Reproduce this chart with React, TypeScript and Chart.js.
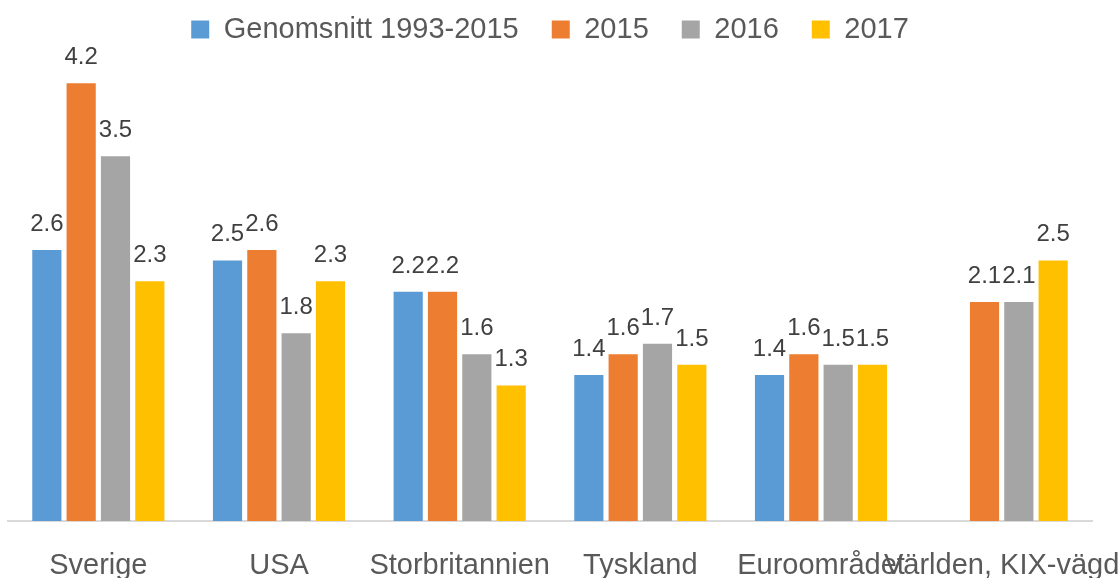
import React, { useEffect, useRef } from "react";
import { Chart, registerables } from "chart.js";

Chart.register(...registerables);

const categories = ["Sverige", "USA", "Storbritannien", "Tyskland", "Euroområdet", "Världen, KIX-vägd"];
const seriesNames = ["Genomsnitt 1993-2015", "2015", "2016", "2017"];
const avg9315 = [2.6, 2.5, 2.2, 1.4, 1.4, null];
const y2015 = [4.2, 2.6, 2.2, 1.6, 1.6, 2.1];
const y2016 = [3.5, 1.8, 1.6, 1.7, 1.5, 2.1];
const y2017 = [2.3, 2.3, 1.3, 1.5, 1.5, 2.5];
const seriesColors = ["#5B9BD5", "#ED7D31", "#A5A5A5", "#FFC000"];

const FONT = "'Liberation Sans', Arial, sans-serif";

const dataLabelPlugin = {
  id: "dataLabels",
  afterDatasetsDraw(chart: any) {
    const ctx = chart.ctx;
    ctx.save();
    ctx.font = `24px ${FONT}`;
    ctx.fillStyle = "#404040";
    ctx.textAlign = "center";
    ctx.textBaseline = "alphabetic";
    chart.data.datasets.forEach((ds: any, di: number) => {
      const meta = chart.getDatasetMeta(di);
      meta.data.forEach((el: any, i: number) => {
        const v = ds.data[i];
        if (v === null || v === undefined) return;
        ctx.fillText(Number(v).toFixed(1), el.x, el.y - 19);
      });
    });
    ctx.restore();
  },
};

export default function App() {
  const ref = useRef<HTMLCanvasElement>(null);
  useEffect(() => {
    if (!ref.current) return;
    const all = [avg9315, y2015, y2016, y2017];
    const chart = new Chart(ref.current, {
      type: "bar",
      data: {
        labels: categories,
        datasets: all.map((d, i) => ({
          label: seriesNames[i],
          data: d as any,
          backgroundColor: seriesColors[i],
          borderWidth: 0,
          categoryPercentage: 0.76,
          barPercentage: 0.85,
        })),
      },
      options: {
        animation: false,
        responsive: true,
        maintainAspectRatio: false,
        layout: { padding: { top: -18, left: 8, right: 28, bottom: 0 } },
        plugins: {
          legend: {
            display: true,
            position: "top",
            labels: {
              boxWidth: 18,
              boxHeight: 18,
              padding: 33,
              color: "#595959",
              font: { family: FONT, size: 29 },
            },
          },
          tooltip: { enabled: false },
        },
        scales: {
          x: {
            grid: { display: false, drawTicks: false },
            border: { display: true, color: "#D9D9D9", width: 2 },
            ticks: {
              autoSkip: false,
              maxRotation: 0,
              minRotation: 0,
              padding: 30,
              color: "#595959",
              font: { family: FONT, size: 29, lineHeight: 1 },
            },
            afterFit: (scale: any) => {
              scale.paddingLeft = 0;
              scale.paddingRight = 0;
              scale.height = 57;
            },
          },
          y: {
            display: false,
            min: 0,
            max: 4.48,
          },
        },
      },
      plugins: [dataLabelPlugin],
    });
    return () => chart.destroy();
  }, []);
  return (
    <div style={{ position: "fixed", left: 0, top: 0, width: 1120, height: 578, background: "#fff" }}>
      <canvas ref={ref} />
    </div>
  );
}
